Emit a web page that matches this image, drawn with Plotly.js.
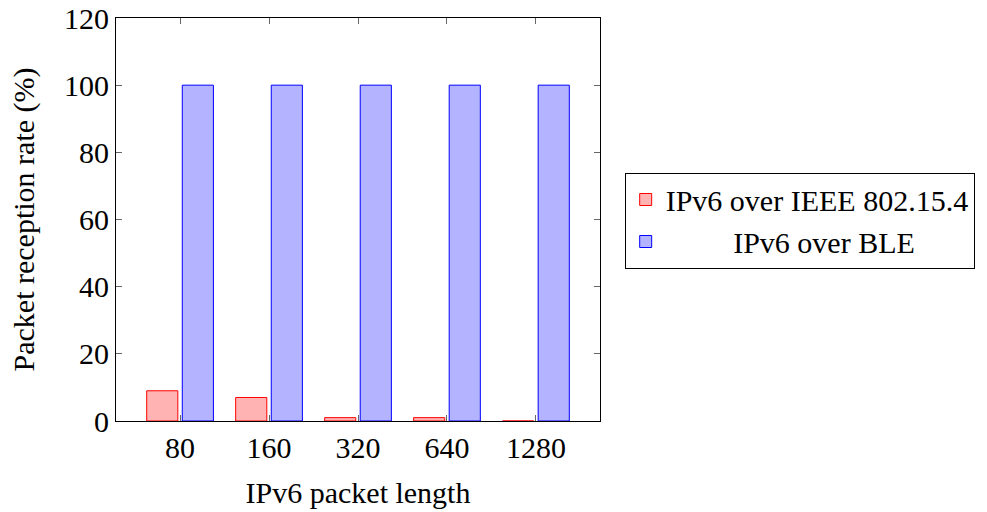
<!DOCTYPE html>
<html><head><meta charset="utf-8">
<script src="https://cdn.plot.ly/plotly-3.0.1.min.js"></script>
<style>body{margin:0;background:#fff}</style>
</head><body>
<div id="chart" style="width:987px;height:512px"></div>
<script>
const categories = ["80", "160", "320", "640", "1280"];
const ieeeValues = [9, 7, 1, 1, 0];
const bleValues = [100, 100, 100, 100, 100];
const seriesNames = ["IPv6 over IEEE 802.15.4", "\u00A0\u00A0\u00A0\u00A0\u00A0\u00A0\u00A0\u00A0\u00A0IPv6 over BLE"];
const yTicks = [0, 20, 40, 60, 80, 100, 120];

const font = {family: "'Liberation Serif', 'DejaVu Serif', serif", size: 30, color: "#000"};

const traces = [
  {type: "bar", x: categories, y: ieeeValues, name: seriesNames[0],
   width: 0.35, offset: -0.375,
   marker: {color: "rgb(255,179,179)", line: {color: "rgb(255,0,0)", width: 1}}},
  {type: "bar", x: categories, y: bleValues, name: seriesNames[1],
   width: 0.35, offset: 0.025,
   marker: {color: "rgb(179,179,255)", line: {color: "rgb(0,0,255)", width: 1}}}
];

const layout = {
  width: 987, height: 512,
  margin: {l: 116, r: 385, t: 18, b: 91},
  paper_bgcolor: "#fff", plot_bgcolor: "#fff",
  font: font,
  showlegend: true,
  legend: {x: 1.051, y: 0.4975, xanchor: "left", yanchor: "middle",
    bordercolor: "#000", borderwidth: 1, bgcolor: "#fff",
    font: font, tracegroupgap: 0, itemwidth: 30},
  xaxis: {type: "category", range: [-0.72, 4.72],
    ticks: "inside", ticklen: 6, tickcolor: "#666", mirror: "ticks",
    showline: true, linecolor: "#000", linewidth: 1, showgrid: false,
    title: {text: "IPv6 packet length", font: font, standoff: 18},
    tickfont: font},
  yaxis: {range: [0, 120], tickvals: yTicks,
    ticks: "inside", ticklen: 6, tickcolor: "#666", mirror: "ticks",
    showline: true, linecolor: "#000", linewidth: 1, showgrid: false, zeroline: false,
    title: {text: "Packet reception rate (%)", font: font, standoff: 20},
    tickfont: font}
};

Plotly.newPlot("chart", traces, layout, {displayModeBar: false, staticPlot: true});
</script>
</body></html>
